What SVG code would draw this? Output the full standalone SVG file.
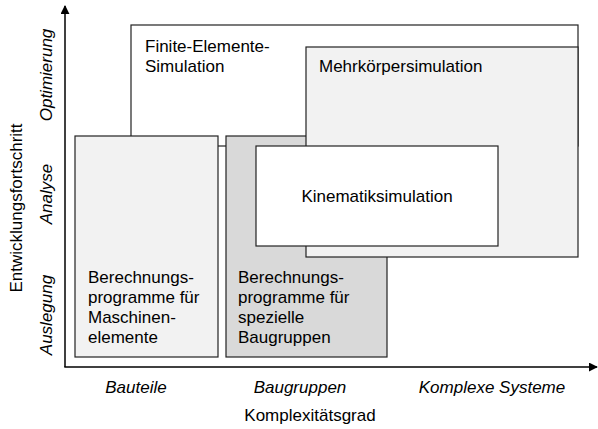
<svg xmlns="http://www.w3.org/2000/svg" width="598" height="429" viewBox="0 0 598 429">
  <style>
    text { font-family: "Liberation Sans", Arial, sans-serif; font-size: 17px; fill: #000; }
    .it { font-style: italic; }
    .box { stroke: #222; stroke-width: 1.2; }
    .axis { stroke: #000; stroke-width: 1.5; fill: none; }
  </style>
  <defs>
    <marker id="arrow" viewBox="0 0 10 10" refX="9" refY="5" markerWidth="9" markerHeight="9" markerUnits="userSpaceOnUse" orient="auto">
      <path d="M0,0 L10,5 L0,10 z" fill="#000"/>
    </marker>
  </defs>

  <rect width="598" height="429" fill="#fff"/>

  <g id="fem">
    <rect class="box" x="131" y="25" width="447" height="121" fill="#fff"/>
    <text x="145" y="52">Finite-Elemente-</text>
    <text x="145" y="72">Simulation</text>
  </g>

  <g id="maschinenelemente">
    <rect class="box" x="75" y="136" width="143" height="221" fill="#f2f2f2"/>
    <text x="88" y="283">Berechnungs-</text>
    <text x="88" y="303">programme für</text>
    <text x="88" y="323">Maschinen-</text>
    <text x="88" y="343">elemente</text>
  </g>

  <g id="baugruppen">
    <rect class="box" x="226" y="136" width="161" height="221" fill="#d9d9d9"/>
    <text x="238" y="283">Berechnungs-</text>
    <text x="238" y="303">programme für</text>
    <text x="238" y="323">spezielle</text>
    <text x="238" y="343">Baugruppen</text>
  </g>

  <g id="mks">
    <rect class="box" x="306" y="47" width="272" height="210" fill="#f2f2f2"/>
    <text x="319" y="72">Mehrkörpersimulation</text>
  </g>

  <g id="kinematik">
    <rect class="box" x="256" y="146" width="242" height="100" fill="#fff"/>
    <text x="377" y="202" text-anchor="middle">Kinematiksimulation</text>
  </g>

  <g id="connectors">
    <line class="axis" x1="65" y1="367" x2="65" y2="6" marker-end="url(#arrow)"/>
    <line class="axis" x1="64.3" y1="367" x2="597" y2="367" marker-end="url(#arrow)"/>
  </g>

  <g id="axis-labels">
    <text class="it" x="136" y="393" text-anchor="middle">Bauteile</text>
    <text class="it" x="300" y="393" text-anchor="middle">Baugruppen</text>
    <text class="it" x="492" y="393" text-anchor="middle">Komplexe Systeme</text>
    <text x="310" y="421" text-anchor="middle">Komplexitätsgrad</text>
    <text transform="translate(22,208) rotate(-90)" text-anchor="middle">Entwicklungsfortschritt</text>
    <text class="it" transform="translate(52,75) rotate(-90)" text-anchor="middle">Optimierung</text>
    <text class="it" transform="translate(52,194) rotate(-90)" text-anchor="middle">Analyse</text>
    <text class="it" transform="translate(52,315) rotate(-90)" text-anchor="middle">Auslegung</text>
  </g>
</svg>
